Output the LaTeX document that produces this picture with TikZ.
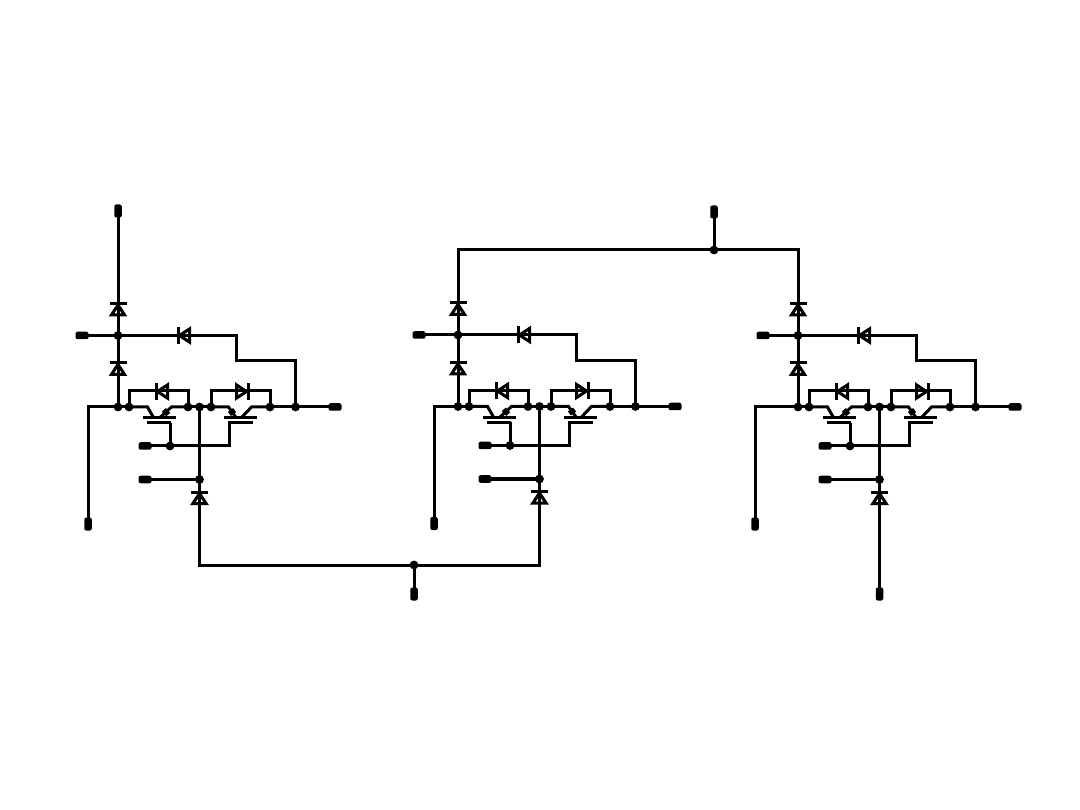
\documentclass[tikz,border=0pt]{standalone}
\tikzset{
	wire/.style={line width=3pt},
	dot/.style={circle,fill=black,inner sep=0pt,minimum size=8.8pt,outer sep=-2pt},
	termh/.style={rectangle,rounded corners=2pt,fill=black,inner sep=0pt,minimum width=13pt,minimum height=7.5pt,outer sep=-1pt},
	termv/.style={rectangle,rounded corners=2pt,fill=black,inner sep=0pt,minimum width=7.5pt,minimum height=13pt,outer sep=-1pt},
	diode/.pic={\draw[wire] (-8.5,-6)--(8.5,-6); \draw[wire,line join=miter] (0,-4.5)--(-6.6,5.5)--(6.6,5.5)--cycle;}
}
\begin{document}
\begin{tikzpicture}[x=1pt,y=-1pt]
	\useasboundingbox (0,0) rectangle (1080,810);
	\foreach \m/\dx/\dy/\lx/\tx in {1/118/407/-30/-36,2/458/406.5/-24/-39,3/798/407/-43/-35}{
		\begin{scope}[shift={(\dx,\dy)},name prefix=m\m-]
			% junctions on the bus
			\node[dot] (tap) at (0,0) {}; \node[dot] (a1) at (11,0) {}; \node[dot] (b1) at (70,0) {};
			\node[dot] (mid) at (81.5,0) {}; \node[dot] (a2) at (93,0) {}; \node[dot] (b2) at (152,0) {};
			\node[dot] (out) at (177.5,0) {}; \node[dot] (ac) at (0,-71.5) {};
			\node[dot] (g1) at (52,39) {}; \node[dot] (g0) at (81.5,72.5) {};
			% terminals
			\node[termh] (tac) at (\tx,-71.5) {}; \node[termh] (tout) at (217,0) {};
			\node[termh] (tg1) at (27,39) {}; \node[termh] (tg0) at (27,72.5) {};
			\node[termv] (tl) at (\lx,117) {};
			% corners
			\coordinate (up) at (0,-98); \coordinate (low) at (81.5,91);
			\coordinate (r1) at (118.5,-71.5); \coordinate (r2) at (177.5,-46);
			\coordinate (l1) at (\lx,0); \coordinate (g2) at (111,16); \coordinate (g3) at (52,16);
			\draw[wire] (up)--(ac); \draw[wire] (ac)--(tap);
			\draw[wire] (tac)--(ac); \draw[wire] (ac)--(r1)--(118.5,-46)--(r2)--(out);
			\draw[wire] (tl)--(l1)--(tap); \draw[wire] (tap)--(a1);
			\draw[wire] (b1)--(mid); \draw[wire] (mid)--(a2); \draw[wire] (b2)--(out); \draw[wire] (out)--(tout);
			\draw[wire] (mid)--(g0); \draw[wire] (g0)--(low); \draw[wire] (tg0)--(g0);
			\draw[wire] (tg1)--(g1); \draw[wire] (g1)--(111,39)--(g2); \draw[wire] (g1)--(g3);
			% antiparallel diodes
			\draw[wire] (a1)--(11,-16)--(70,-16)--(b1);
			\draw[wire] (a2)--(93,-16)--(152,-16)--(b2);
			\pic[rotate=90] at (44,-15.5) {diode};
			\pic[rotate=-90] at (124,-15.5) {diode};
			\pic[rotate=90] at (66,-71.5) {diode};
			\pic at (0,-97.5) {diode};
			\pic at (0,-38) {diode};
			\pic at (81.5,91) {diode};
			% left igbt
			\draw[wire] (a1)--(29.5,0)--(35.5,10.5); \draw[wire] (b1)--(53.5,0)--(42,10.5);
			\draw[wire] (25,11)--(58,11); \draw[wire] (29,16)--(53,16);
			\draw[line width=6.5pt] (46,7)--(50,3.5);
			% right igbt
			\draw[wire] (a2)--(110.5,0)--(118,10.5); \draw[wire] (b2)--(133.5,0)--(123.5,10.5);
			\draw[wire] (106,11)--(139,11); \draw[wire] (110,16)--(135,16);
			\draw[line width=6.5pt] (112.5,3)--(115.5,7);
		\end{scope}
	}
	\node[termv] (ttop) at (118,211) {}; \node[termv] (tcom) at (714,212) {};
	\node[termv] (tbot) at (414,594) {}; \node[termv] (tend) at (879.5,594) {};
	\node[dot] (jcom) at (714,250) {}; \node[dot] (jbot) at (414,565) {};
	\coordinate (bend2) at (458,250); \coordinate (bend3) at (798,250);
	\draw[wire] (ttop)--(m1-up);
	\draw[wire] (tcom)--(jcom);
	\draw[wire] (jcom)--(bend3)--(m3-up);
	\draw[wire] (jcom)--(bend2)--(m2-up);
	\draw[wire] (tbot)--(jbot);
	\draw[wire] (jbot)-|(m1-low);
	\draw[wire] (jbot)-|(m2-low);
	\draw[wire] (tend)--(m3-low);
\end{tikzpicture}
\end{document}
